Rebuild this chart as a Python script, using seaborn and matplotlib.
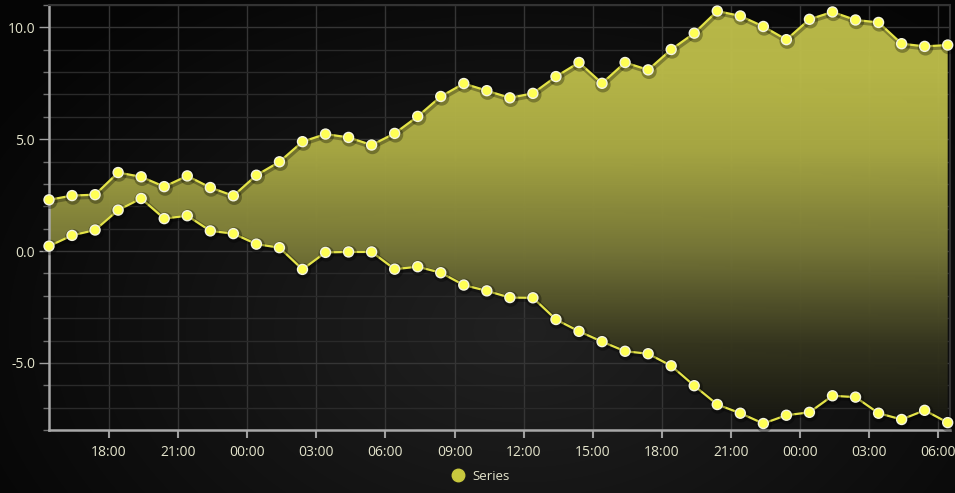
import numpy as np
import pandas as pd
import matplotlib
matplotlib.use("Agg")
import matplotlib.pyplot as plt
import matplotlib.dates as mdates
import seaborn as sns
from matplotlib.colors import LinearSegmentedColormap
from matplotlib.lines import Line2D
import matplotlib.patheffects as pe

# hourly samples starting 15:24
times = pd.date_range("2024-01-01 15:24", periods=40, freq="h")
high = [2.29, 2.48, 2.52, 3.51, 3.32, 2.88, 3.36, 2.84, 2.47, 3.39,
        3.99, 4.89, 5.23, 5.08, 4.74, 5.26, 6.02, 6.91, 7.49, 7.17,
        6.85, 7.05, 7.80, 8.43, 7.50, 8.43, 8.10, 9.01, 9.74, 10.73,
        10.51, 10.04, 9.45, 10.36, 10.69, 10.33, 10.22, 9.27, 9.15, 9.21]
low = [0.22, 0.70, 0.94, 1.83, 2.35, 1.45, 1.58, 0.90, 0.78, 0.31,
       0.15, -0.82, -0.06, -0.04, -0.04, -0.81, -0.70, -0.97, -1.52, -1.78,
       -2.08, -2.09, -3.06, -3.59, -4.05, -4.48, -4.59, -5.13, -6.02, -6.86,
       -7.25, -7.71, -7.34, -7.21, -6.47, -6.53, -7.25, -7.53, -7.12, -7.67]
yticks = [-5, 0, 5, 10]
series_name = "Series"

df = pd.DataFrame({"time": times, "low": low, "high": high})

sns.set_theme(style="dark")
plt.rcParams["font.family"] = ["Open Sans", "DejaVu Sans"]

fig = plt.figure(figsize=(9.55, 4.93), dpi=100)

# background radial gradient
bg = fig.add_axes([0, 0, 1, 1], zorder=0)
yy, xx = np.mgrid[0:493, 0:955]
r = np.sqrt(((xx - 520) / 620.0) ** 2 + ((yy - 330) / 420.0) ** 2)
shade = np.clip(0.13 - 0.11 * r, 0.02, 0.13)
bg.imshow(np.dstack([shade, shade, shade]), aspect="auto", extent=[0, 1, 0, 1])
bg.axis("off")

ax = fig.add_axes([49 / 955, 1 - 430 / 493, 901 / 955, 425 / 493], zorder=1)
ax.patch.set_alpha(0)

x0 = mdates.date2num(times[0])
x1 = mdates.date2num(pd.Timestamp("2024-01-03 06:30"))
ax.set_xlim(x0, x1)
ax.set_ylim(-8, 11)

# gradient filled range
poly = ax.fill_between(mdates.date2num(times), df["low"], df["high"],
                       facecolor="none", edgecolor="none")
cmap = LinearSegmentedColormap.from_list(
    "olive", [(0.0, "#141410"), (0.2, "#36361f"), (0.42, "#777738"),
              (0.66, "#abab44"), (0.85, "#bcbc4a"), (1.0, "#bebe4b")])
grad = np.linspace(1, 0, 256).reshape(-1, 1)
im = ax.imshow(grad, cmap=cmap, aspect="auto", extent=[x0, x1, -8, 11],
               alpha=0.97, zorder=2)
im.set_clip_path(poly.get_paths()[0], transform=ax.transData)

shadow = [pe.SimpleLineShadow(offset=(0.6, -1.0), shadow_color="black", alpha=0.3, linewidth=4),
          pe.Normal()]
for col in ["high", "low"]:
    sns.lineplot(data=df, x="time", y=col, ax=ax, color="#e4e448", lw=1.6,
                 marker="o", markersize=7.2, markerfacecolor="#ffff55",
                 markeredgecolor="#f4f4e0", markeredgewidth=1.0, zorder=4)
for ln in ax.lines:
    ln.set_path_effects(shadow)
    ln.set_clip_on(False)

ax.set_xlim(x0, x1)
ax.set_ylim(-8, 11)
ax.xaxis.set_major_locator(mdates.HourLocator(byhour=range(0, 24, 3)))
ax.xaxis.set_major_formatter(mdates.DateFormatter("%H:%M"))
ax.set_yticks(yticks)
ax.set_yticks(range(-8, 12), minor=True)
ax.yaxis.set_major_formatter(plt.FuncFormatter(lambda v, p: f"{v:.1f}"))
ax.set_xlabel("")
ax.set_ylabel("")

ax.grid(True, which="major", axis="both", color="#353535", lw=1)
ax.grid(True, which="minor", axis="y", color="#2a2a2a", lw=1)
ax.set_axisbelow(True)

ax.tick_params(axis="x", which="major", length=6, width=1.5, color="#a0a0a0",
               labelcolor="#e4e4cc", labelsize=10, pad=5, bottom=True)
ax.tick_params(axis="y", which="major", length=7, width=1, color="#a0a0a0",
               labelcolor="#e4e4cc", labelsize=10, pad=3, left=True)
ax.tick_params(axis="y", which="minor", length=4, width=1, color="#707070", left=True)

for s in ["left", "bottom"]:
    ax.spines[s].set_color("#a8a8a8")
    ax.spines[s].set_linewidth(1.8)
for s in ["top", "right"]:
    ax.spines[s].set_color("#333333")
    ax.spines[s].set_linewidth(1.5)

handle = Line2D([], [], marker="o", ls="none", markersize=9,
                markerfacecolor="#c8c83e", markeredgecolor="#c8c83e")
leg = fig.legend([handle], [series_name], loc="center", bbox_to_anchor=(0.5, 1 - 476 / 493),
                 frameon=False, fontsize=9.5, handletextpad=0.1, labelcolor="#e4e4cc")

fig.savefig("out.png", dpi=100)
